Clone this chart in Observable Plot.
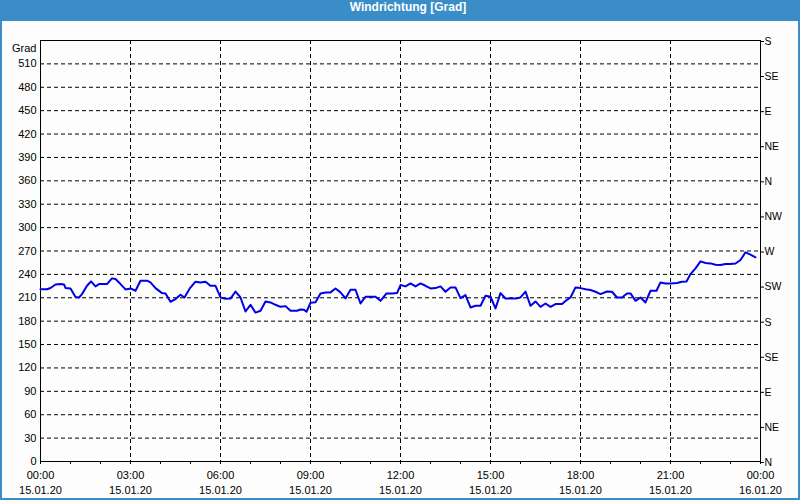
<!DOCTYPE html>
<html>
<head>
<meta charset="utf-8">
<script src="https://cdn.jsdelivr.net/npm/d3@7"></script>
<script src="https://cdn.jsdelivr.net/npm/@observablehq/plot@0.6"></script>
<style>
  html, body { margin: 0; padding: 0; background: #fff; }
  #wrap {
    width: 800px; height: 500px; box-sizing: border-box;
    border-left: 2px solid #3b8dc8; border-right: 2px solid #3b8dc8; border-bottom: 2px solid #3b8dc8;
    background: #fcfdfc; overflow: hidden;
  }
  #title {
    height: 21px; line-height: 21px; background: #3b8dc8; color: #fff;
    font: bold 12px "Liberation Sans", Arial, sans-serif; text-align: center; padding-left: 16px;
  }
  #chart svg { display: block; }
</style>
</head>
<body>
<div id="wrap">
  <div id="title">Windrichtung [Grad]</div>
  <div id="chart"></div>
</div>
<script>
// time of each reading, minutes after 00:00 on 15.01.20
const minutes = [
  0,13,20,30,40,47,50,60,70,77,83,93,101,110,117,133,143,150,160,170,180,190,200,213,220,230,243,250,260,270,280,288,299,310,320,330,340,350,360,370,380,390,400,410,420,430,440,450,460,470,480,490,
  500,513,520,527,532,540,550,560,570,580,590,600,610,620,630,640,650,660,670,680,692,703,713,720,730,740,750,760,770,780,790,800,810,820,830,840,850,860,870,880,890,900,910,920,930,940,950,960,970,980,990,1000,
  1010,1020,1030,1043,1053,1060,1070,1080,1090,1100,1110,1120,1133,1143,1153,1163,1173,1180,1190,1200,1210,1220,1232,1240,1250,1260,1273,1283,1292,1300,1310,1320,1330,1340,1350,1360,1370,1380,1390,1400,1410,1420,1430
];
// wind direction in degrees
const direction = [
  221,221,222.6,227,227.6,227,222.6,222,211,210.4,214.7,225.4,231,224.6,227.6,227.6,234.9,234,227.6,220.7,222,219,231.9,231.9,229.7,222.4,216,215.6,204.9,208.3,213.9,210.4,222.4,230.6,229.7,230.6,225.4,225.4,210.4,208.7,209,218,210.4,192.4,201,191,193.3,205.3,204,201,198.4,199.3,
  193.3,193.3,195,194.6,192,203.6,204.4,215.6,216.9,216.9,222,216.9,209.1,220.3,220.3,202.7,211.3,211.3,211.3,206.1,215.6,215.6,216,226.3,224.6,228.4,224.6,228.4,225.4,222,222.4,224.6,217.7,223.3,223.3,209.6,213.4,197.6,199.7,199.7,212.6,211.3,196.3,216,209.1,209.1,209.1,210.4,218,199.7,205.3,198.4,
  202.7,198.4,201.9,201.9,207.4,210.4,223.3,222.4,221,219.9,217.7,214.7,218,217.7,210.4,210.4,215.6,215.6,206.1,210.4,204,219,219,229.7,228.4,228.4,228.9,230.6,231,240.4,247.7,256.7,254.6,254.1,252.4,252,253.3,253.3,254,258.4,268.3,265.3,261.9
];

// tick labels
const leftTickLabels = ["0","30","60","90","120","150","180","210","240","270","300","330","360","390","420","450","480","510"];
const compassLabels = ["N","NE","E","SE","S","SW","W","NW","N","NE","E","SE","S"];
const compassDegrees = [0,45,90,135,180,225,270,315,360,405,450,495,540];
const timeLabels = ["00:00","03:00","06:00","09:00","12:00","15:00","18:00","21:00","00:00"];
const dateLabels = ["15.01.20","15.01.20","15.01.20","15.01.20","15.01.20","15.01.20","15.01.20","15.01.20","16.01.20"];
const labelMinutes = [0,180,360,540,720,900,1080,1260,1440];
const hourMinutes = d3.range(0, 1441, 60);

const data = minutes.map((m, i) => ({t: m, v: direction[i]}));
const leftTicks = leftTickLabels.map(Number);
const gridYTicks = leftTicks.filter(d => d > 0);
const gridXTicks = labelMinutes.filter(d => d > 0 && d < 1440);

const plot = Plot.plot({
  width: 796,
  height: 477,
  marginLeft: 38,
  marginRight: 38,
  marginTop: 19,
  marginBottom: 37,
  style: {background: "transparent", fontFamily: "'Liberation Sans', Arial, sans-serif", fontSize: "11px", color: "#000"},
  x: {type: "linear", domain: [0, 1440], axis: null},
  y: {domain: [0, 540], axis: null},
  marks: [
    Plot.gridY(gridYTicks, {stroke: "#000", strokeOpacity: 1, strokeDasharray: "4,3"}),
    Plot.gridX(gridXTicks, {stroke: "#000", strokeOpacity: 1, strokeDasharray: "4,3"}),
    Plot.frame({stroke: "#000"}),
    Plot.axisY({ticks: leftTicks, tickSize: 0, tickPadding: 4, tickFormat: d => leftTickLabels[leftTicks.indexOf(d)], label: null}),
    Plot.axisY({anchor: "right", ticks: compassDegrees, tickSize: 3, tickPadding: 1, fontSize: 10.5, dy: 1, tickFormat: d => compassLabels[compassDegrees.indexOf(d)], label: null}),
    Plot.axisX({ticks: hourMinutes, tickSize: 3, tickFormat: () => "", label: null}),
    Plot.axisX({ticks: labelMinutes, tickSize: 0, tickPadding: 10, tickFormat: d => timeLabels[labelMinutes.indexOf(d)], label: null}),
    Plot.axisX({ticks: labelMinutes, tickSize: 0, tickPadding: 25, tickFormat: d => dateLabels[labelMinutes.indexOf(d)], label: null}),
    Plot.text(["Grad"], {frameAnchor: "top-left", dx: -4, dy: 4, textAnchor: "end", fill: "#000"}),
    Plot.line(data, {x: "t", y: "v", stroke: "#0000e8", strokeWidth: 2})
  ]
});
document.getElementById("chart").appendChild(plot);
</script>
</body>
</html>
